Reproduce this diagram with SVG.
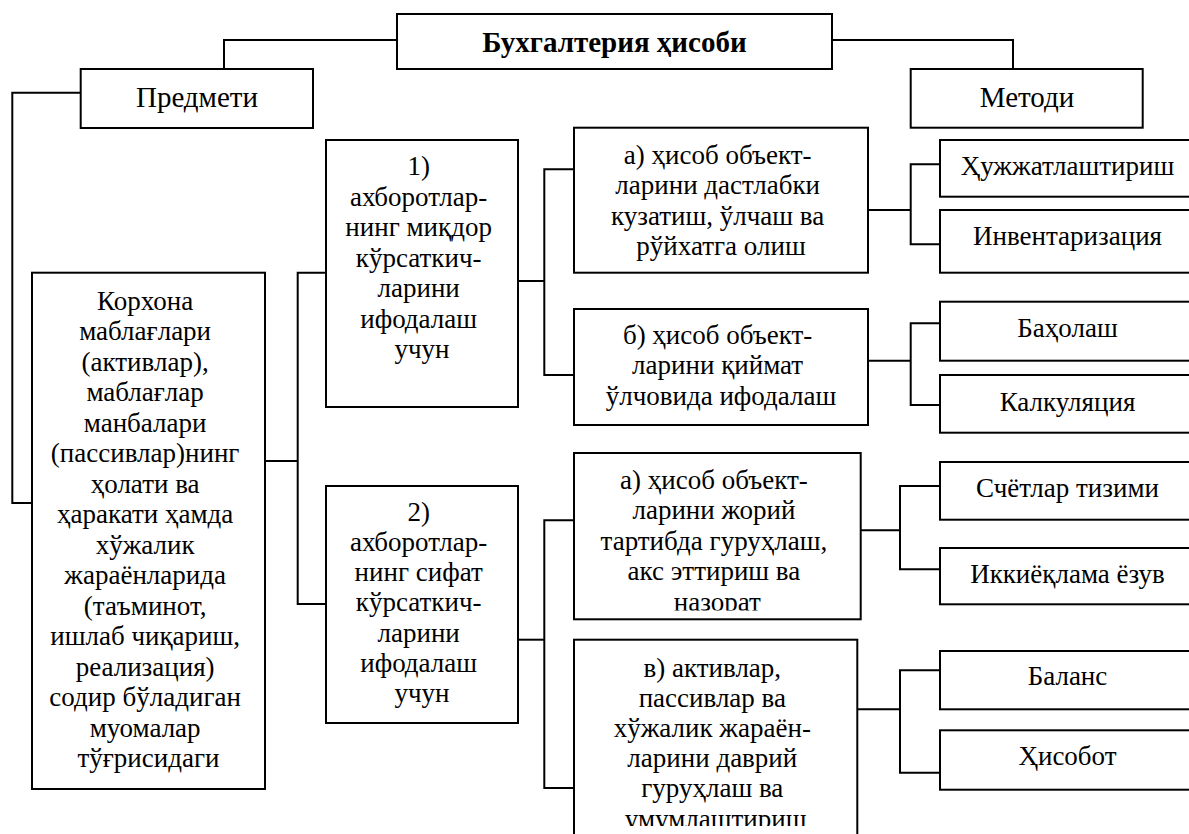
<svg xmlns="http://www.w3.org/2000/svg" width="1189" height="834" viewBox="0 0 1189 834">
<style>
.box{fill:#fff;stroke:#000;stroke-width:2}
.ln{fill:none;stroke:#000;stroke-width:2}
.t{font-family:"Liberation Serif","Times New Roman",serif;font-size:27px;text-anchor:middle;fill:#000}
.h{font-size:29px}
.b{font-weight:bold;font-size:29px}
</style>
<defs>
<clipPath id="ca2"><rect x="574" y="453" width="287" height="157.5"/></clipPath>
<clipPath id="cv"><rect x="574" y="640" width="284" height="186"/></clipPath>
</defs>
<rect width="1189" height="834" fill="#fff"/>
<g id="connectors">
<polyline class="ln" points="397,40 224,40 224,69"/>
<polyline class="ln" points="832,40 1013,40 1013,69"/>
<polyline class="ln" points="80.7,92.7 12.3,92.7 12.3,503 32,503"/>
<line class="ln" x1="265" y1="461" x2="297.7" y2="461"/>
<polyline class="ln" points="326,272.7 297.7,272.7 297.7,604 326,604"/>
<line class="ln" x1="518" y1="281" x2="544.3" y2="281"/>
<polyline class="ln" points="574,169.3 544.3,169.3 544.3,375 574,375"/>
<line class="ln" x1="518" y1="639.7" x2="544.3" y2="639.7"/>
<polyline class="ln" points="574,520.3 544.3,520.3 544.3,788 574,788"/>
<line class="ln" x1="868" y1="210" x2="910.7" y2="210"/>
<polyline class="ln" points="940,164.3 910.7,164.3 910.7,244.3 940,244.3"/>
<line class="ln" x1="868" y1="360.7" x2="910.7" y2="360.7"/>
<polyline class="ln" points="940,323.3 910.7,323.3 910.7,405 940,405"/>
<line class="ln" x1="860.7" y1="530.3" x2="900" y2="530.3"/>
<polyline class="ln" points="940,486 900,486 900,569.3 940,569.3"/>
<line class="ln" x1="857.3" y1="709.3" x2="900" y2="709.3"/>
<polyline class="ln" points="940,670.3 900,670.3 900,772.7 940,772.7"/>
</g>
<g id="title">
<rect class="box" x="397" y="14" width="435" height="55"/>
<text class="t b" x="614.5" y="52">Бухгалтерия ҳисоби</text>
</g>
<g id="predmeti">
<rect class="box" x="80.7" y="69" width="232.3" height="59"/>
<text class="t h" x="197" y="107">Предмети</text>
</g>
<g id="metodi">
<rect class="box" x="910.7" y="69" width="232" height="58.7"/>
<text class="t h" x="1027" y="107">Методи</text>
</g>
<g id="korxona">
<rect class="box" x="32" y="272.7" width="233" height="516.3"/>
<text class="t">
<tspan x="148.5" y="309.5">Корхона</tspan>
<tspan x="148.5" y="340">маблағлари</tspan>
<tspan x="148.5" y="370.5">(активлар),</tspan>
<tspan x="148.5" y="401">маблағлар</tspan>
<tspan x="148.5" y="431.5">манбалари</tspan>
<tspan x="148.5" y="462">(пассивлар)нинг</tspan>
<tspan x="148.5" y="492.5">ҳолати ва</tspan>
<tspan x="148.5" y="523">ҳаракати ҳамда</tspan>
<tspan x="148.5" y="553.5">хўжалик</tspan>
<tspan x="148.5" y="584">жараёнларида</tspan>
<tspan x="148.5" y="614.5">(таъминот,</tspan>
<tspan x="148.5" y="645">ишлаб чиқариш,</tspan>
<tspan x="148.5" y="675.5">реализация)</tspan>
<tspan x="148.5" y="706">содир бўладиган</tspan>
<tspan x="148.5" y="736.5">муомалар</tspan>
<tspan x="148.5" y="767">тўғрисидаги</tspan>
</text>
</g>
<g id="box1">
<rect class="box" x="326" y="140" width="192" height="267"/>
<text class="t">
<tspan x="422" y="175">1)</tspan>
<tspan x="422" y="205.5">ахборотлар-</tspan>
<tspan x="422" y="236">нинг миқдор</tspan>
<tspan x="422" y="266.5">кўрсаткич-</tspan>
<tspan x="422" y="297">ларини</tspan>
<tspan x="422" y="327.5">ифодалаш</tspan>
<tspan x="422" y="358">учун</tspan>
</text>
</g>
<g id="box2">
<rect class="box" x="326" y="486" width="192" height="237"/>
<text class="t">
<tspan x="422" y="520.5">2)</tspan>
<tspan x="422" y="550.7">ахборотлар-</tspan>
<tspan x="422" y="581">нинг сифат</tspan>
<tspan x="422" y="611.2">кўрсаткич-</tspan>
<tspan x="422" y="641.5">ларини</tspan>
<tspan x="422" y="671.7">ифодалаш</tspan>
<tspan x="422" y="702">учун</tspan>
</text>
</g>
<g id="a1">
<rect class="box" x="574" y="127.7" width="294" height="145"/>
<text class="t">
<tspan x="721" y="163.5">а) ҳисоб объект-</tspan>
<tspan x="721" y="194">ларини дастлабки</tspan>
<tspan x="721" y="224.5">кузатиш, ўлчаш ва</tspan>
<tspan x="721" y="255">рўйхатга олиш</tspan>
</text>
</g>
<g id="b1">
<rect class="box" x="574" y="309" width="294" height="116"/>
<text class="t">
<tspan x="721" y="343.5">б) ҳисоб объект-</tspan>
<tspan x="721" y="374">ларини қиймат</tspan>
<tspan x="721" y="404.5">ўлчовида ифодалаш</tspan>
</text>
</g>
<g id="a2">
<rect class="box" x="574" y="453" width="286.7" height="166.3"/>
<text class="t" clip-path="url(#ca2)">
<tspan x="717.3" y="488.5">а) ҳисоб объект-</tspan>
<tspan x="717.3" y="519">ларини жорий</tspan>
<tspan x="717.3" y="549.5">тартибда гуруҳлаш,</tspan>
<tspan x="717.3" y="580">акс эттириш ва</tspan>
<tspan x="717.3" y="610.5">назорат</tspan>
</text>
</g>
<g id="v">
<rect class="box" x="574" y="639.7" width="283.3" height="210"/>
<text class="t" clip-path="url(#cv)">
<tspan x="715.7" y="676.5">в) активлар,</tspan>
<tspan x="715.7" y="706.7">пассивлар ва</tspan>
<tspan x="715.7" y="736.9">хўжалик жараён-</tspan>
<tspan x="715.7" y="767.1">ларини даврий</tspan>
<tspan x="715.7" y="797.3">гуруҳлаш ва</tspan>
<tspan x="715.7" y="827.5">умумлаштириш</tspan>
</text>
</g>
<g id="m1"><rect class="box" x="940" y="140" width="255" height="56.7"/><text class="t" x="1067.5" y="175">Ҳужжатлаштириш</text></g>
<g id="m2"><rect class="box" x="940" y="210" width="255" height="62.7"/><text class="t" x="1067.5" y="245">Инвентаризация</text></g>
<g id="m3"><rect class="box" x="940" y="301.7" width="255" height="59"/><text class="t" x="1067.5" y="336.7">Баҳолаш</text></g>
<g id="m4"><rect class="box" x="940" y="375" width="255" height="57.7"/><text class="t" x="1067.5" y="410.7">Калкуляция</text></g>
<g id="m5"><rect class="box" x="940" y="462" width="255" height="57.7"/><text class="t" x="1067.5" y="497">Счётлар тизими</text></g>
<g id="m6"><rect class="box" x="940" y="548" width="255" height="56.3"/><text class="t" x="1067.5" y="582.7">Иккиёқлама ёзув</text></g>
<g id="m7"><rect class="box" x="940" y="651" width="255" height="58.3"/><text class="t" x="1067.5" y="685.3">Баланс</text></g>
<g id="m8"><rect class="box" x="940" y="730.3" width="255" height="59.4"/><text class="t" x="1067.5" y="764.7">Ҳисобот</text></g>
</svg>
